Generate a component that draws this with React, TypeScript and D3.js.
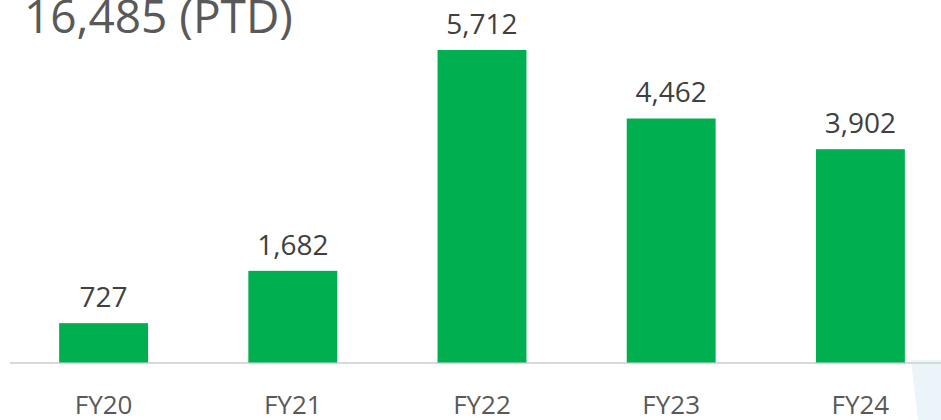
import React from "react";
import * as d3 from "d3";

const categories = ["FY20", "FY21", "FY22", "FY23", "FY24"];
const values = [727, 1682, 5712, 4462, 3902];
const title = "16,485 (PTD)";

const W = 941;
const H = 420;

export default function App() {
  const x = d3.scaleBand<string>().domain(categories).range([9, 955]).paddingInner(0.53).paddingOuter(0.265);
  const y = d3.scaleLinear().domain([0, 5712]).range([363, 50]);
  const fmt = d3.format(",");
  const font = "'Open Sans', 'Noto Sans', sans-serif";
  return (
    <div style={{ position: "fixed", left: 0, top: 0, width: W, height: H, overflow: "hidden", background: "#fff" }}>
      <svg width={W} height={H} style={{ display: "block" }}>
        <polygon points={`911,360 ${W},360 ${W},${H} 918,${H}`} fill="#EAF4F9" />
        <line x1={10} x2={W} y1={363} y2={363} stroke="#D9D9D9" strokeWidth={2} />
        {categories.map((c, i) => (
          <g key={c}>
            <rect x={x(c)} y={y(values[i])} width={x.bandwidth()} height={y(0) - y(values[i]) - 0.5} fill="#00B050" />
            <text x={x(c)! + x.bandwidth() / 2} y={y(values[i]) - 16} textAnchor="middle" fontFamily={font} fontSize={28} fill="#404040">
              {fmt(values[i])}
            </text>
            <text x={x(c)! + x.bandwidth() / 2} y={414} textAnchor="middle" fontFamily={font} fontSize={26} fill="#595959">
              {c}
            </text>
          </g>
        ))}
        <text x={24} y={33} fontFamily={font} fontSize={46} fill="#595959">{title}</text>
      </svg>
    </div>
  );
}
